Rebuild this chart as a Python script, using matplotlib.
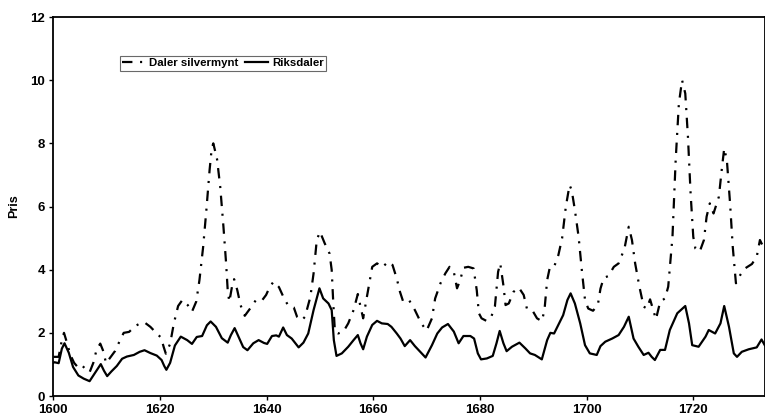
import matplotlib
matplotlib.use("Agg")
import matplotlib.pyplot as plt

# Daler silvermynt (streck-prick)
daler_years = [
    1600.0, 1601.0, 1601.6, 1602.0, 1602.5, 1603.2, 1603.9, 1604.5, 1605.2, 1606.0,
    1606.8, 1607.5, 1608.1, 1608.8, 1609.3, 1609.9, 1610.6, 1611.6, 1612.6, 1613.2,
    1614.2, 1615.4, 1616.3, 1617.1, 1618.2, 1619.4, 1620.2, 1620.7, 1621.1, 1621.9,
    1622.6, 1623.4, 1624.2, 1625.2, 1626.0, 1626.8, 1627.4, 1628.1, 1628.7, 1629.3,
    1629.7, 1630.0, 1630.7, 1631.3, 1631.9, 1632.4, 1632.7, 1633.0, 1633.5, 1633.9,
    1634.5, 1635.1, 1635.9, 1636.9, 1638.0, 1639.1, 1639.9, 1640.6, 1641.3, 1642.3,
    1643.3, 1644.1, 1645.1, 1645.7, 1646.6, 1647.2, 1648.2, 1648.8, 1649.4, 1650.0,
    1650.9, 1651.8, 1652.2, 1652.5, 1652.8, 1653.4, 1654.4, 1655.3, 1656.3, 1657.1,
    1657.6, 1658.1, 1658.8, 1659.8, 1660.7, 1661.7, 1662.8, 1663.6, 1664.4, 1665.0,
    1665.6, 1666.7, 1667.8, 1669.0, 1670.0, 1671.0, 1671.6, 1672.6, 1673.5, 1674.3,
    1675.1, 1675.7, 1676.3, 1676.9, 1677.8, 1678.8, 1679.4, 1679.8, 1680.3, 1681.2,
    1682.1, 1682.8, 1683.4, 1683.8, 1684.4, 1684.8, 1685.4, 1686.3, 1687.3, 1688.2,
    1688.8, 1689.8, 1690.7, 1691.6, 1692.1, 1692.6, 1693.1, 1693.9, 1694.7, 1695.4,
    1696.1, 1696.8, 1697.2, 1697.8, 1698.5, 1699.1, 1699.7, 1700.3, 1701.2, 1702.1,
    1702.6, 1703.2, 1704.1, 1705.1, 1706.0, 1707.1, 1707.9, 1708.5, 1709.1, 1709.9,
    1710.7, 1711.3, 1711.9, 1712.4, 1713.0, 1713.8, 1714.7, 1715.3, 1716.1, 1716.7,
    1717.3, 1717.9, 1718.5, 1719.0, 1719.5, 1720.0, 1720.4, 1721.2, 1722.0, 1722.5,
    1723.1, 1723.8, 1724.8, 1725.4, 1725.8, 1726.3, 1726.9, 1727.4, 1728.0, 1728.8,
    1729.7, 1731.0, 1731.9, 1732.5, 1733.1,
]
daler_values = [
    1.24, 1.24, 1.77, 2.00, 1.72, 1.30, 1.05, 0.93, 1.00, 0.86,
    0.75, 1.05, 1.46, 1.66, 1.45, 1.04, 1.20, 1.43, 1.80, 2.00,
    2.03, 2.22, 2.30, 2.33, 2.19, 1.98, 1.85, 1.55, 1.34, 1.65,
    2.30, 2.85, 3.04, 2.88, 2.67, 2.99, 3.67, 4.73, 5.89, 7.15,
    7.84, 8.00, 7.50, 6.62, 5.36, 4.20, 3.35, 2.98, 3.46, 3.70,
    3.35, 2.88, 2.54, 2.77, 3.04, 3.02, 3.20, 3.46, 3.62, 3.45,
    3.08, 2.85, 2.80, 2.51, 2.40, 2.51, 3.14, 3.88, 4.94, 5.20,
    4.83, 4.51, 3.99, 2.93, 2.04, 1.98, 2.04, 2.30, 2.72, 3.23,
    2.83, 2.46, 3.14, 4.09, 4.20, 4.08, 4.25, 4.15, 3.72, 3.30,
    2.99, 3.04, 2.72, 2.30, 2.07, 2.46, 3.09, 3.57, 3.88, 4.09,
    3.93, 3.41, 3.67, 4.06, 4.09, 4.04, 3.35, 2.62, 2.46, 2.38,
    2.50, 2.83, 3.93, 4.20, 3.50, 2.88, 2.93, 3.30, 3.43, 3.20,
    2.77, 2.72, 2.46, 2.37, 2.72, 3.67, 4.07, 4.09, 4.46, 4.99,
    5.99, 6.68, 6.52, 5.89, 5.04, 3.99, 3.04, 2.77, 2.70, 2.88,
    3.40, 3.74, 3.80, 4.09, 4.20, 4.67, 5.36, 4.94, 4.20, 3.46,
    2.83, 2.77, 3.06, 2.77, 2.43, 2.99, 3.09, 3.46, 5.04, 7.47,
    9.26, 10.00, 9.58, 8.21, 6.41, 5.04, 4.67, 4.57, 4.94, 5.68,
    6.10, 5.78, 6.31, 7.26, 7.84, 7.47, 6.10, 4.73, 3.57, 3.83,
    4.04, 4.18, 4.41, 4.94, 4.73,
]

# Riksdaler (heldragen)
riks_years = [
    1600.0, 1600.2, 1601.0, 1601.6, 1602.1, 1602.9, 1603.7, 1604.7, 1605.7, 1606.8,
    1607.8, 1608.9, 1609.5, 1610.1, 1610.9, 1611.9, 1612.9, 1613.8, 1615.1, 1616.2,
    1617.1, 1618.2, 1619.4, 1620.3, 1620.8, 1621.2, 1621.9, 1622.8, 1623.9, 1625.1,
    1626.0, 1626.9, 1627.9, 1628.8, 1629.5, 1630.5, 1631.6, 1632.7, 1633.3, 1634.0,
    1634.8, 1635.6, 1636.4, 1637.5, 1638.5, 1639.5, 1640.1, 1641.0, 1641.8, 1642.3,
    1643.1, 1643.8, 1644.7, 1646.0, 1646.9, 1647.8, 1648.8, 1649.9, 1650.6, 1651.6,
    1652.2, 1652.6, 1653.1, 1654.1, 1655.3, 1656.3, 1657.1, 1657.6, 1658.1, 1658.8,
    1659.8, 1660.7, 1661.6, 1662.7, 1663.4, 1664.4, 1665.1, 1665.9, 1666.9, 1667.8,
    1668.8, 1669.8, 1671.0, 1672.0, 1672.9, 1674.0, 1675.1, 1676.0, 1676.9, 1678.2,
    1678.9, 1679.6, 1680.2, 1681.3, 1682.4, 1683.1, 1683.7, 1684.4, 1685.0, 1686.0,
    1687.4, 1688.5, 1689.4, 1690.3, 1691.6, 1692.6, 1693.2, 1693.9, 1694.7, 1695.6,
    1696.4, 1697.0, 1697.8, 1698.8, 1699.7, 1700.6, 1701.9, 1702.6, 1703.5, 1704.8,
    1706.0, 1707.0, 1707.9, 1708.8, 1709.7, 1710.7, 1711.6, 1712.2, 1712.8, 1713.8,
    1714.7, 1715.6, 1717.0, 1718.5, 1719.2, 1719.8, 1721.0, 1722.3, 1722.9, 1724.1,
    1725.1, 1725.8, 1726.7, 1727.6, 1728.2, 1729.1, 1730.4, 1731.9, 1732.8, 1733.4,
]
riks_values = [
    1.05, 1.07, 1.04, 1.50, 1.67, 1.37, 0.92, 0.65, 0.55, 0.47,
    0.73, 1.01, 0.80, 0.63, 0.78, 0.95, 1.18, 1.25, 1.30, 1.40,
    1.45, 1.36, 1.28, 1.14, 0.95, 0.83, 1.05, 1.60, 1.88, 1.77,
    1.65, 1.87, 1.90, 2.24, 2.36, 2.19, 1.83, 1.69, 1.93, 2.15,
    1.85, 1.55, 1.45, 1.67, 1.77, 1.68, 1.65, 1.90, 1.92, 1.88,
    2.17, 1.93, 1.82, 1.54, 1.69, 1.98, 2.72, 3.41, 3.09, 2.93,
    2.72, 1.77, 1.27, 1.35, 1.56, 1.77, 1.93, 1.67, 1.48, 1.88,
    2.25, 2.38, 2.30, 2.28, 2.19, 1.98, 1.82, 1.58, 1.77, 1.58,
    1.40, 1.22, 1.61, 1.98, 2.17, 2.28, 2.04, 1.67, 1.90, 1.90,
    1.82, 1.35, 1.16, 1.19, 1.27, 1.67, 2.06, 1.67, 1.42, 1.56,
    1.69, 1.51, 1.35, 1.30, 1.16, 1.77, 2.00, 1.98, 2.25, 2.56,
    3.04, 3.25, 2.93, 2.30, 1.61, 1.35, 1.30, 1.58, 1.72, 1.82,
    1.93, 2.19, 2.51, 1.82, 1.56, 1.30, 1.37, 1.24, 1.14, 1.46,
    1.46, 2.09, 2.62, 2.85, 2.30, 1.61, 1.56, 1.88, 2.09, 1.98,
    2.30, 2.85, 2.19, 1.35, 1.24, 1.40, 1.48, 1.54, 1.79, 1.61,
]

x_ticks = [1600, 1620, 1640, 1660, 1680, 1700, 1720]
y_ticks = [0, 2, 4, 6, 8, 10, 12]

plt.rcParams["font.family"] = ["Liberation Sans", "DejaVu Sans"]
plt.rcParams["lines.scale_dashes"] = False

fig = plt.figure(figsize=(7.65, 4.2), dpi=100)
ax = fig.add_axes([0.0697, 0.0571, 1 - 0.0697, 0.9595 - 0.0571])

line_d, = ax.plot(daler_years, daler_values, color="black", linewidth=1.6,
                  solid_joinstyle="round", dash_joinstyle="round",
                  label="Daler silvermynt")
line_d.set_dashes((7.5, 5.5, 1.5, 5.5))
ax.plot(riks_years, riks_values, color="black", linewidth=1.6,
        solid_joinstyle="round", label="Riksdaler")

ax.set_xlim(1600, 1733.45)
ax.set_ylim(0, 12)
ax.set_xticks(x_ticks)
ax.set_yticks(y_ticks)
ax.tick_params(direction="out", length=3, width=1, labelsize=9.5, pad=3)
for lab in ax.get_xticklabels() + ax.get_yticklabels():
    lab.set_fontweight("bold")

for s in ax.spines.values():
    s.set_linewidth(1.3)

ax.set_ylabel("Pris", fontsize=9, fontweight="bold", labelpad=7)

leg = fig.legend(loc="upper left", bbox_to_anchor=(120 / 765, 1 - 56 / 420),
                 ncol=2, fontsize=8.2, frameon=True, fancybox=False,
                 edgecolor="#444444", handlelength=2.0, handletextpad=0.35,
                 columnspacing=0.6, borderpad=0.2, borderaxespad=0)
leg.get_frame().set_linewidth(0.8)
for t in leg.get_texts():
    t.set_fontweight("bold")

fig.savefig("out.png", dpi=100)
